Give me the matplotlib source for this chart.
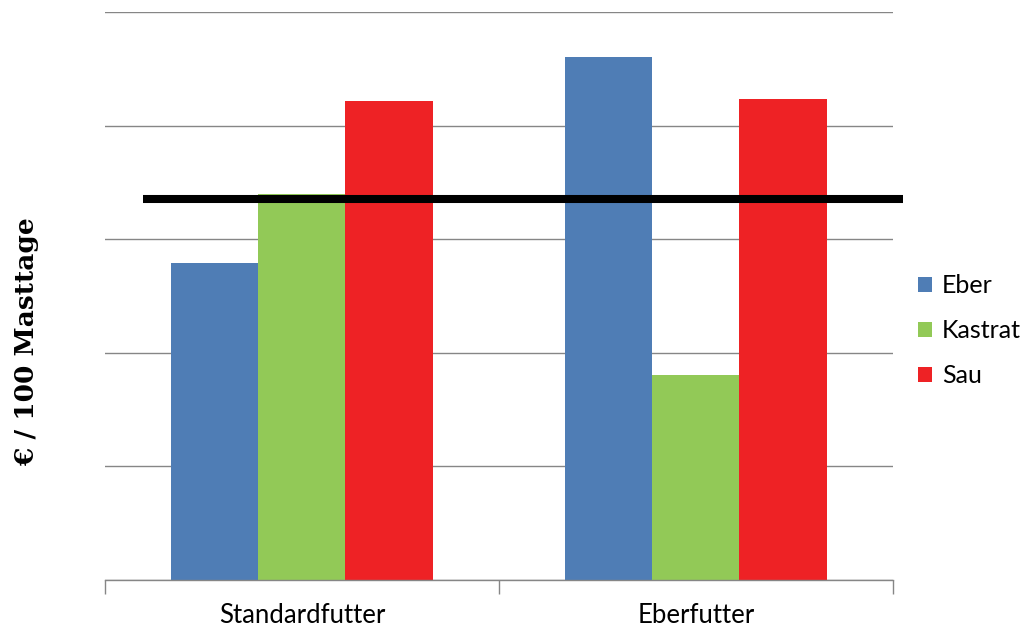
import numpy as np
import matplotlib
matplotlib.use("Agg")
import matplotlib.pyplot as plt
from matplotlib.patches import Patch

# ---------------------------
# Data
# ---------------------------
categories = ["Standardfutter", "Eberfutter"]
series = ["Eber", "Kastrat", "Sau"]
eber = [2.79, 4.60]
kastrat = [3.40, 1.80]
sau = [4.22, 4.23]
reference_level = 3.35

colors = ["#4F7DB5", "#92C957", "#EE2225"]
values = [eber, kastrat, sau]

plt.rcParams["font.family"] = ["Lato", "DejaVu Sans"]

fig = plt.figure(figsize=(10.22, 6.3), dpi=100)
ax = fig.add_axes([0.1027, 0.0794, 0.7710, 0.9016])

x = np.arange(len(categories))
width = 0.221
for i, (name, vals, col) in enumerate(zip(series, values, colors)):
    ax.bar(x + (i - 1) * width, vals, width=width, color=col, label=name, zorder=2)

# horizontal reference line across both groups
ax.plot([-0.404, 1.525], [reference_level, reference_level], color="black",
        lw=5.8, solid_capstyle="butt", clip_on=False, zorder=3)

ax.set_xlim(-0.5, 1.5)
ax.set_ylim(0, 5)
ax.set_yticks(np.arange(0, 6))
ax.yaxis.grid(True, color="#868686", lw=1, zorder=0)
ax.tick_params(axis="y", length=0, labelleft=False)

ax.set_xticks(x)
ax.set_xticklabels(categories, fontsize=18.5)
ax.tick_params(axis="x", which="major", length=0, pad=16.5)
ax.set_xticks([-0.5, 0.5, 1.5], minor=True)
ax.tick_params(axis="x", which="minor", length=10, color="#868686", width=1)

for s in ["left", "right", "top"]:
    ax.spines[s].set_visible(False)
ax.spines["bottom"].set_color("#868686")
ax.spines["bottom"].set_linewidth(1)

fig.text(0.026, 0.457, "€ / 100 Masttage", rotation=90, ha="center", va="center",
         fontsize=19, fontweight="bold", family=["DejaVu Serif"])

handles = [Patch(facecolor=c, label=n) for n, c in zip(series, colors)]
fig.legend(handles=handles, loc="center left", bbox_to_anchor=(0.898, 0.475),
           frameon=False, fontsize=18, handlelength=0.56, handleheight=0.56,
           handletextpad=0.4, labelspacing=0.88, borderaxespad=0, borderpad=0)

fig.savefig("out.png", dpi=100)
